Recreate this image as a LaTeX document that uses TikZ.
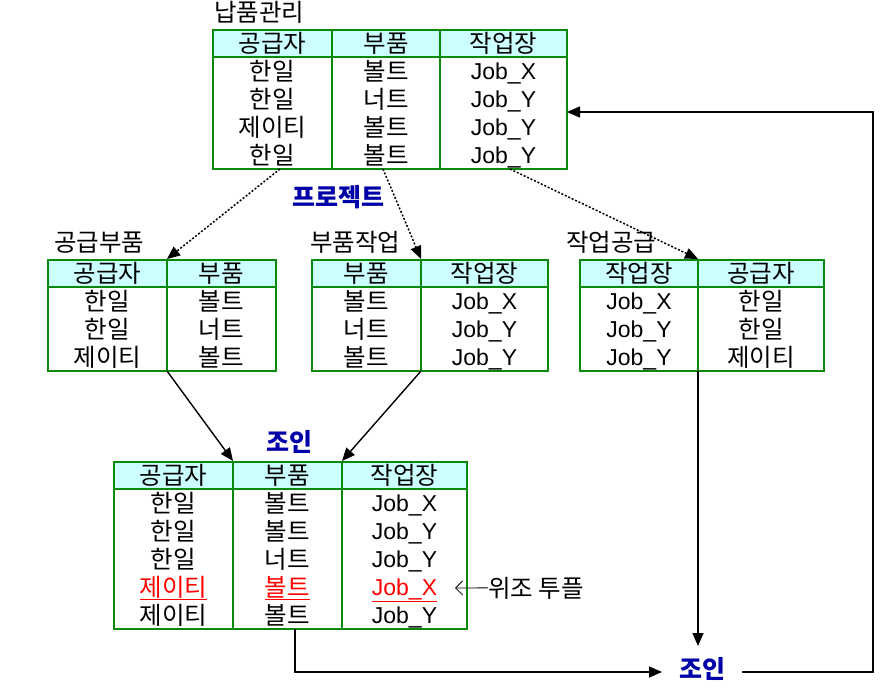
\documentclass[tikz,border=0pt]{standalone}
\usepackage{fontspec}
\setmainfont{Liberation Sans}
\newfontfamily\kr{Noto Sans CJK KR}
\usetikzlibrary{arrows.meta}
\definecolor{tgreen}{HTML}{0A8A0A}
\definecolor{hcyan}{HTML}{CCFFFF}
\definecolor{jblue}{HTML}{0000A8}
\definecolor{fred}{HTML}{FF0000}
\begin{document}
\begin{tikzpicture}[x=1pt,y=-1pt,
  frame/.style={draw=tgreen,line width=1.8pt},
  hfill/.style={fill=hcyan},
  lc/.style={inner sep=0pt,anchor=base,font=\fontsize{23}{24}\selectfont},
  kc/.style={inner sep=0pt,anchor=base,font=\kr\fontsize{24.5}{26}\selectfont},
  ttl/.style={inner sep=0pt,anchor=base west,font=\kr\fontsize{24.5}{26}\selectfont},
  bl/.style={inner sep=0pt,anchor=base,text=jblue,font=\kr\bfseries\fontsize{25}{26}\selectfont},
  red/.style={text=fred},
  conn/.style={line width=1.4pt,-{Triangle[length=13pt,width=11pt]}},
  dconn/.style={conn,line width=1.5pt,dash pattern=on 2pt off 1.8pt},
]
\useasboundingbox (0,0) rectangle (884,689);

% ---------- 납품관리 ----------
\node[ttl] (t-np) at (214,21) {납품관리};
\fill[hfill] (213,30) rectangle (567,57);
\draw[frame] (213,30) rectangle (567,169);
\draw[frame] (213,57) -- (567,57) (332,30) -- (332,169) (440,30) -- (440,169);
\node[kc] (np-h1) at (272.5,52.5) {공급자};
\node[kc] (np-h2) at (386,52.5) {부품};
\node[kc] (np-h3) at (503.5,52.5) {작업장};
\node[kc] (np-11) at (272.5,80) {한일};
\node[kc] (np-12) at (386,80) {볼트};
\node[lc] (np-13) at (503.5,79.5) {Job\_X};
\node[kc] (np-21) at (272.5,108) {한일};
\node[kc] (np-22) at (386,108) {너트};
\node[lc] (np-23) at (503.5,107.5) {Job\_Y};
\node[kc] (np-31) at (272.5,136) {제이티};
\node[kc] (np-32) at (386,136) {볼트};
\node[lc] (np-33) at (503.5,135.5) {Job\_Y};
\node[kc] (np-41) at (272.5,164) {한일};
\node[kc] (np-42) at (386,164) {볼트};
\node[lc] (np-43) at (503.5,163.5) {Job\_Y};

\node[bl] (pj) at (338,206) {프로젝트};

% ---------- 공급부품 ----------
\node[ttl] (t-gb) at (54,251) {공급부품};
\fill[hfill] (48,260) rectangle (276,287);
\draw[frame] (48,260) rectangle (276,371);
\draw[frame] (48,287) -- (276,287) (167,260) -- (167,371);
\node[kc] (gb-h1) at (107.5,282.5) {공급자};
\node[kc] (gb-h2) at (221.5,282.5) {부품};
\node[kc] (gb-11) at (107.5,310) {한일};
\node[kc] (gb-12) at (221.5,310) {볼트};
\node[kc] (gb-21) at (107.5,338) {한일};
\node[kc] (gb-22) at (221.5,338) {너트};
\node[kc] (gb-31) at (107.5,366) {제이티};
\node[kc] (gb-32) at (221.5,366) {볼트};

% ---------- 부품작업 ----------
\node[ttl] (t-bj) at (310,251) {부품작업};
\fill[hfill] (312,260) rectangle (548,287);
\draw[frame] (312,260) rectangle (548,371);
\draw[frame] (312,287) -- (548,287) (421,260) -- (421,371);
\node[kc] (bj-h1) at (366.5,282.5) {부품};
\node[kc] (bj-h2) at (484.5,282.5) {작업장};
\node[kc] (bj-11) at (366.5,310) {볼트};
\node[lc] (bj-12) at (484.5,309.5) {Job\_X};
\node[kc] (bj-21) at (366.5,338) {너트};
\node[lc] (bj-22) at (484.5,337.5) {Job\_Y};
\node[kc] (bj-31) at (366.5,366) {볼트};
\node[lc] (bj-32) at (484.5,365.5) {Job\_Y};

% ---------- 작업공급 ----------
\node[ttl] (t-jg) at (566,251) {작업공급};
\fill[hfill] (580,260) rectangle (824,287);
\draw[frame] (580,260) rectangle (824,371);
\draw[frame] (580,287) -- (824,287) (698,260) -- (698,371);
\node[kc] (jg-h1) at (639,282.5) {작업장};
\node[kc] (jg-h2) at (761,282.5) {공급자};
\node[lc] (jg-11) at (639,309.5) {Job\_X};
\node[kc] (jg-12) at (761,310) {한일};
\node[lc] (jg-21) at (639,337.5) {Job\_Y};
\node[kc] (jg-22) at (761,338) {한일};
\node[lc] (jg-31) at (639,365.5) {Job\_Y};
\node[kc] (jg-32) at (761,366) {제이티};

% ---------- 조인 table ----------
\node[bl] (j1) at (289,451) {조인};
\fill[hfill] (114,462) rectangle (467,489);
\draw[frame] (114,462) rectangle (467,629);
\draw[frame] (114,489) -- (467,489) (233,462) -- (233,629) (342,462) -- (342,629);
\node[kc] (jt-h1) at (173.5,484.5) {공급자};
\node[kc] (jt-h2) at (287.5,484.5) {부품};
\node[kc] (jt-h3) at (404.5,484.5) {작업장};
\node[kc] (jt-11) at (173.5,512) {한일};
\node[kc] (jt-12) at (287.5,512) {볼트};
\node[lc] (jt-13) at (404.5,511.5) {Job\_X};
\node[kc] (jt-21) at (173.5,540) {한일};
\node[kc] (jt-22) at (287.5,540) {볼트};
\node[lc] (jt-23) at (404.5,539.5) {Job\_Y};
\node[kc] (jt-31) at (173.5,568) {한일};
\node[kc] (jt-32) at (287.5,568) {너트};
\node[lc] (jt-33) at (404.5,567.5) {Job\_Y};
\node[kc,red] (jt-41) at (173.5,596) {\underline{제이티}};
\node[kc,red] (jt-42) at (287.5,596) {\underline{볼트}};
\node[lc,red] (jt-43) at (404.5,595.5) {\underline{Job\_X}};
\node[kc] (jt-51) at (173.5,624) {제이티};
\node[kc] (jt-52) at (287.5,624) {볼트};
\node[lc] (jt-53) at (404.5,623.5) {Job\_Y};

\node[kc,anchor=base west] (fake) at (488,597) {위조 투플};
\coordinate (fk-tip) at (455,588);
\draw[line width=0.8pt,{Straight Barb[length=7pt,width=14pt]}-] (fk-tip) -- (fake.west);

\node[bl] (j2) at (702,678) {조인};

% ---------- connectors ----------
\coordinate (np-a) at (280,169);
\coordinate (np-b) at (383,169);
\coordinate (np-c) at (510,169);
\coordinate (gb-top) at (167,259);
\coordinate (bj-top) at (421,259);
\coordinate (jg-top) at (698,259);
\draw[dconn] (np-a) -- (gb-top);
\draw[dconn] (np-b) -- (bj-top);
\draw[dconn] (np-c) -- (jg-top);

\coordinate (gb-bot) at (167,371);
\coordinate (bj-bot) at (421,371);
\coordinate (jt-l) at (233,461);
\coordinate (jt-r) at (342,461);
\draw[conn] (gb-bot) -- (jt-l);
\draw[conn] (bj-bot) -- (jt-r);

\coordinate (jg-bot) at (698,371);
\coordinate (j2-top) at (698,646);
\draw[conn] (jg-bot) -- (j2-top);

\coordinate (jt-bot) at (295,629);
\coordinate (j2-left) at (662,672);
\draw[conn] (jt-bot) |- (j2-left);

\coordinate (j2-right) at (742,672);
\coordinate (ret) at (873,112);
\coordinate (np-right) at (567,112);
\draw[conn] (j2-right) -| (ret) -- (np-right);
\end{tikzpicture}
\end{document}
